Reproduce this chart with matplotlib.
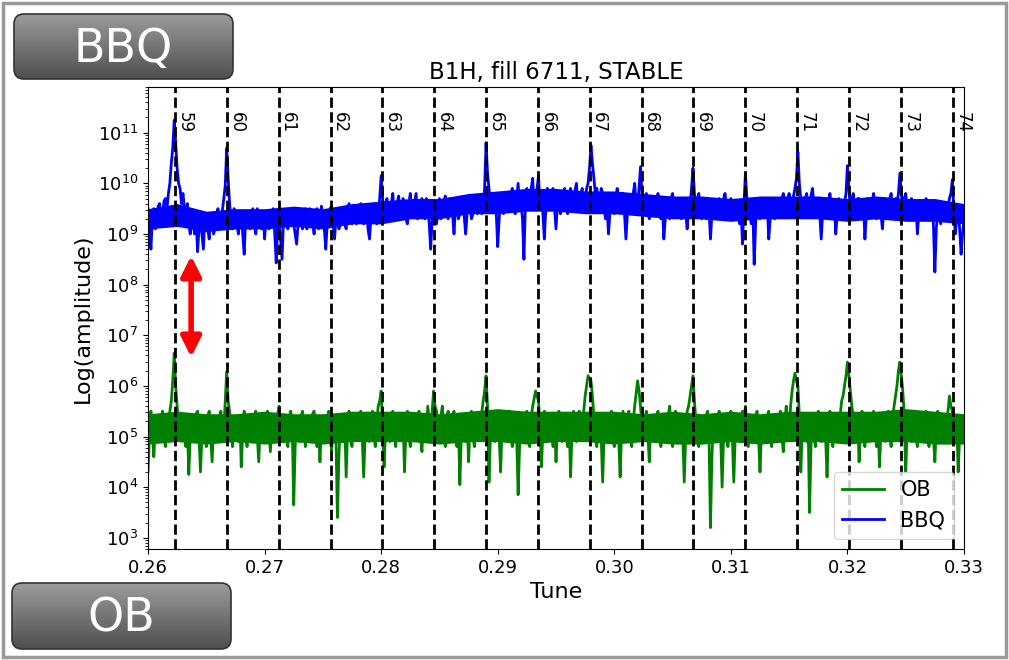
import numpy as np
import matplotlib
matplotlib.use("Agg")
import matplotlib.pyplot as plt
from matplotlib.patches import FancyBboxPatch, Rectangle
from matplotlib.colors import LinearSegmentedColormap
from matplotlib.ticker import LogLocator

# log10 amplitudes.
# *_log: samples at 0.26 + 0.00025*i ; *_mid: samples half way between them
tune_start = 0.26
tune_step = 0.00025

bbq_log = [
    9.5, 8.7, 9.5, 9.3, 9.6, 9.4, 9.7, 9.8, 10.4, 11.25, 10.3, 9.9, 9.8, 9.4, 9.2, 9.45, 9.0, 8.65, 9.3, 8.7,
    9.4, 8.9, 9.3, 9.1, 9.5, 9.2, 9.7, 10.7, 9.6, 9.1, 9.45, 9.0, 9.3, 8.6, 9.4, 9.1, 9.5, 9.0, 9.35, 9.1,
    8.9, 9.4, 9.2, 9.5, 8.43, 9.3, 8.5, 9.4, 9.1, 9.5, 9.2, 8.8, 9.4, 9.1, 9.5, 9.2, 9.45, 9.0, 9.5, 9.2,
    9.4, 8.7, 9.3, 9.55, 8.9, 9.4, 9.2, 9.5, 9.1, 9.6, 9.2, 9.5, 9.3, 9.6, 9.2, 9.5, 8.9, 9.4, 9.6, 9.3,
    10.15, 9.4, 9.7, 9.3, 9.8, 9.4, 9.75, 9.3, 9.6, 9.2, 9.8, 9.5, 9.8, 9.4, 9.7, 9.3, 9.6, 8.7, 9.5, 9.2,
    9.7, 9.4, 9.75, 9.3, 9.6, 9.0, 9.7, 9.4, 9.6, 9.0, 9.5, 9.3, 9.6, 9.4, 9.7, 9.5, 10.8, 9.9, 9.5, 9.8,
    8.75, 9.7, 9.4, 9.8, 9.5, 9.9, 9.4, 10.0, 9.6, 8.5, 9.9, 9.6, 10.1, 9.6, 10.15, 9.7, 8.9, 9.9, 9.6, 9.9,
    9.1, 9.8, 9.5, 9.9, 9.4, 9.9, 9.5, 10.0, 9.5, 9.9, 9.6, 10.0, 10.75, 10.1, 9.9, 9.5, 9.8, 9.3, 9.0, 9.7,
    9.4, 9.9, 9.5, 9.8, 8.9, 9.7, 9.4, 10.0, 9.5, 10.33, 9.5, 9.8, 9.3, 9.7, 9.4, 9.8, 9.3, 8.9, 9.6, 9.3,
    9.8, 9.4, 9.7, 9.3, 9.6, 9.1, 9.6, 10.3, 9.5, 9.8, 9.3, 9.7, 9.4, 8.9, 9.6, 9.3, 9.7, 9.4, 9.8, 9.3,
    9.7, 9.4, 9.6, 9.2, 8.8, 10.2, 9.5, 9.2, 8.4, 9.6, 9.3, 9.7, 9.4, 8.9, 9.6, 9.3, 9.7, 9.4, 9.8, 9.5,
    9.8, 9.5, 9.9, 10.62, 9.7, 9.4, 9.8, 9.5, 9.9, 9.4, 9.7, 8.9, 9.6, 9.3, 9.8, 9.4, 9.0, 9.7, 9.4, 9.6,
    10.35, 9.5, 9.8, 9.4, 9.7, 9.3, 8.9, 9.7, 9.4, 9.8, 9.3, 9.6, 9.1, 9.7, 9.4, 9.8, 9.4, 9.6, 10.2, 9.5,
    9.8, 9.4, 9.7, 9.3, 9.0, 9.6, 9.3, 9.7, 9.4, 9.6, 8.25, 9.5, 9.2, 9.6, 9.3, 9.7, 10.07, 9.0, 9.5, 8.6,
    9.3,
]

bbq_mid = [
    9.2, 9.3, 9.1, 9.55, 9.2, 9.65, 9.5, 10.0, 10.7, 10.8, 10.0, 9.6, 9.5, 9.6, 9.0, 9.2, 9.35, 9.1, 9.0, 9.3,
    9.1, 9.35, 9.0, 9.4, 9.15, 9.45, 9.95, 10.1, 9.3, 9.5, 9.2, 9.4, 9.0, 9.3, 9.2, 9.4, 9.15, 9.5, 9.2, 9.45,
    9.3, 9.1, 9.45, 9.0, 9.2, 8.9, 9.3, 9.2, 9.45, 9.3, 9.0, 9.2, 9.3, 9.45, 9.1, 9.5, 9.2, 9.4, 9.1, 9.55,
    9.1, 9.2, 9.5, 9.2, 9.3, 9.1, 9.45, 9.2, 9.5, 9.3, 9.55, 9.2, 9.5, 9.3, 9.45, 9.1, 9.3, 9.55, 9.2, 9.7,
    9.7, 9.6, 9.35, 9.6, 9.3, 9.6, 9.45, 9.7, 9.3, 9.6, 9.35, 9.65, 9.3, 9.6, 9.4, 9.7, 9.2, 9.3, 9.6, 9.45,
    9.3, 9.6, 9.4, 9.7, 9.4, 9.5, 9.3, 9.65, 9.35, 9.4, 9.6, 9.4, 9.7, 9.5, 9.4, 9.9, 10.2, 9.6, 9.7, 9.4,
    9.3, 9.5, 9.7, 9.45, 9.8, 9.5, 9.7, 9.5, 9.3, 9.6, 9.5, 9.9, 9.5, 9.9, 9.5, 9.4, 9.5, 9.7, 9.85, 9.5,
    9.6, 9.4, 9.8, 9.6, 9.75, 9.6, 9.85, 9.6, 9.8, 9.5, 9.9, 10.3, 10.4, 9.8, 9.7, 9.9, 9.5, 9.6, 9.4, 9.5,
    9.7, 9.6, 9.75, 9.4, 9.4, 9.5, 9.8, 9.6, 9.9, 9.8, 9.7, 9.5, 9.6, 9.5, 9.65, 9.5, 9.6, 9.3, 9.5, 9.7,
    9.5, 9.65, 9.4, 9.6, 9.4, 9.5, 9.9, 9.8, 9.7, 9.45, 9.6, 9.3, 9.5, 9.4, 9.45, 9.6, 9.5, 9.7, 9.5, 9.6,
    9.5, 9.65, 9.4, 9.5, 9.6, 9.7, 9.4, 9.6, 9.2, 9.4, 9.6, 9.45, 9.6, 9.3, 9.5, 9.65, 9.5, 9.7, 9.6, 9.7,
    9.6, 9.75, 10.1, 10.0, 9.5, 9.7, 9.55, 9.75, 9.6, 9.65, 9.4, 9.4, 9.5, 9.65, 9.5, 9.6, 9.4, 9.5, 9.65, 9.8,
    9.9, 9.7, 9.55, 9.7, 9.5, 9.6, 9.4, 9.5, 9.65, 9.5, 9.7, 9.4, 9.5, 9.55, 9.7, 9.5, 9.7, 9.8, 9.8, 9.7,
    9.5, 9.6, 9.45, 9.6, 9.4, 9.45, 9.6, 9.5, 9.65, 9.2, 9.1, 9.35, 9.5, 9.4, 9.55, 9.8, 9.5, 9.3, 9.1, 9.0,
]

ob_log = [
    4.3, 5.5, 4.6, 5.4, 4.9, 5.5, 4.8, 5.3, 5.7, 6.65, 5.6, 5.0, 5.4, 4.8, 4.25, 5.4, 4.9, 5.5, 4.3, 5.3,
    4.8, 5.5, 4.5, 5.4, 4.9, 5.5, 5.1, 6.28, 5.5, 4.8, 5.4, 4.9, 4.4, 5.5, 4.8, 5.4, 5.0, 5.5, 4.5, 5.4,
    4.9, 5.5, 4.7, 5.4, 5.0, 5.6, 4.9, 5.4, 4.8, 5.5, 3.65, 5.3, 4.9, 5.5, 4.8, 5.4, 5.0, 5.5, 4.8, 4.5,
    5.4, 4.9, 5.5, 4.7, 5.4, 3.4, 5.3, 4.9, 4.2, 5.5, 4.8, 5.4, 5.0, 5.5, 4.2, 5.4, 4.9, 5.5, 4.8, 5.6,
    5.9, 4.4, 5.4, 4.9, 5.5, 4.8, 5.4, 5.0, 4.3, 5.5, 4.8, 5.4, 5.0, 5.5, 4.7, 5.4, 5.6, 5.0, 5.9, 5.5,
    5.0, 5.6, 4.8, 5.5, 4.9, 5.5, 4.8, 4.05, 5.4, 4.9, 4.5, 5.5, 4.8, 5.4, 5.0, 5.7, 6.2, 4.1, 5.4, 4.9,
    5.5, 4.3, 5.4, 4.9, 5.5, 4.8, 5.4, 3.85, 5.3, 4.9, 5.5, 4.8, 5.6, 5.9, 5.7, 4.4, 5.5, 4.9, 5.4, 4.8,
    4.5, 5.5, 4.9, 5.4, 4.8, 4.2, 5.5, 4.9, 5.5, 5.1, 5.8, 6.2, 6.1, 5.4, 4.8, 5.4, 4.1, 5.3, 4.9, 5.5,
    4.8, 5.4, 4.2, 5.5, 4.9, 5.5, 4.8, 5.6, 6.1, 5.6, 5.0, 5.5, 4.5, 5.4, 4.9, 5.5, 4.8, 5.4, 5.0, 5.6,
    4.8, 5.5, 4.9, 5.4, 4.1, 5.5, 5.8, 6.2, 5.3, 4.8, 5.4, 4.9, 5.5, 3.2, 5.3, 4.9, 5.5, 4.0, 5.4, 4.8,
    5.5, 4.1, 5.4, 4.9, 5.5, 5.6, 4.8, 5.4, 4.9, 5.5, 4.3, 5.4, 4.9, 5.5, 4.8, 5.4, 5.0, 5.5, 4.7, 5.6,
    5.1, 5.9, 6.25, 6.0, 4.3, 5.4, 4.9, 3.5, 5.4, 4.8, 5.5, 4.9, 5.4, 4.2, 5.5, 4.8, 5.4, 5.0, 5.7, 6.0,
    6.47, 5.9, 5.4, 4.9, 4.5, 5.5, 4.8, 5.4, 5.0, 5.5, 4.8, 4.4, 5.4, 4.9, 5.5, 4.8, 5.6, 6.0, 6.47, 5.9,
    4.3, 5.4, 4.9, 5.5, 4.8, 5.4, 5.0, 5.5, 4.8, 5.4, 4.5, 5.5, 4.9, 5.4, 5.0, 5.8, 5.5, 4.9, 4.3, 5.4,
    5.0,
]

ob_mid = [
    5.0, 5.1, 5.2, 5.0, 5.35, 5.0, 5.4, 5.5, 6.1, 6.0, 5.3, 5.45, 5.0, 5.3, 5.0, 5.2, 5.45, 5.0, 5.0, 5.1,
    5.4, 5.0, 5.2, 5.0, 5.4, 5.2, 5.7, 5.7, 5.1, 5.3, 5.0, 5.4, 5.1, 5.0, 5.35, 5.1, 5.4, 5.0, 5.2, 5.0,
    5.35, 5.1, 5.3, 5.05, 5.45, 5.1, 5.3, 5.0, 5.4, 5.2, 4.8, 5.05, 5.4, 5.1, 5.3, 5.0, 5.45, 5.1, 5.3, 5.2,
    5.0, 5.35, 5.0, 5.3, 5.0, 4.6, 5.1, 5.3, 5.2, 5.0, 5.35, 5.1, 5.4, 5.0, 5.0, 5.1, 5.35, 5.0, 5.3, 5.7,
    5.2, 5.1, 5.0, 5.4, 5.1, 5.3, 5.0, 5.4, 5.1, 5.0, 5.3, 5.0, 5.4, 5.0, 5.3, 5.1, 5.3, 5.5, 5.6, 5.1,
    5.4, 5.1, 5.35, 5.0, 5.4, 5.1, 5.3, 5.0, 5.05, 5.4, 5.2, 5.0, 5.3, 5.1, 5.45, 5.9, 5.6, 5.0, 5.1, 5.4,
    5.0, 5.2, 5.1, 5.45, 5.0, 5.3, 5.0, 4.8, 5.1, 5.4, 5.0, 5.4, 5.75, 5.8, 5.2, 5.1, 5.05, 5.3, 5.05, 5.3,
    5.2, 5.0, 5.35, 5.0, 5.3, 5.1, 5.0, 5.4, 5.2, 5.5, 6.0, 6.15, 5.8, 5.0, 5.3, 5.0, 5.0, 5.0, 5.4, 5.1,
    5.3, 5.0, 5.1, 5.1, 5.4, 5.0, 5.3, 5.85, 5.9, 5.2, 5.35, 5.1, 5.2, 5.0, 5.4, 5.1, 5.3, 5.1, 5.4, 5.1,
    5.3, 5.0, 5.35, 5.0, 5.0, 5.6, 6.0, 5.7, 5.0, 5.3, 5.05, 5.4, 5.0, 4.6, 5.0, 5.4, 5.0, 5.0, 5.05, 5.35,
    5.0, 5.0, 5.1, 5.4, 5.3, 5.2, 5.3, 5.0, 5.4, 5.0, 5.1, 5.1, 5.4, 5.0, 5.3, 5.1, 5.4, 5.0, 5.3, 5.2,
    5.6, 6.1, 6.1, 5.4, 5.1, 5.0, 5.3, 4.8, 5.0, 5.35, 5.1, 5.3, 5.0, 5.1, 5.0, 5.3, 5.1, 5.4, 5.8, 6.2,
    6.2, 5.6, 5.1, 5.35, 5.1, 5.0, 5.3, 5.0, 5.4, 5.1, 5.3, 5.1, 5.0, 5.4, 5.0, 5.3, 5.8, 6.3, 6.2, 5.4,
    5.1, 5.0, 5.35, 5.0, 5.3, 5.1, 5.4, 5.0, 5.3, 5.0, 5.2, 5.0, 5.35, 5.1, 5.5, 5.6, 5.1, 5.3, 5.0, 5.2,
]

# solid core of each noise band (log10), every 0.0025 in tune
floor_step = 0.0025
bbq_floor_lo = [9.1, 9.15, 9.05, 9.1, 9.1, 9.15, 9.1, 9.2, 9.2, 9.3, 9.3, 9.4, 9.4, 9.45, 9.45,
                9.4, 9.4, 9.35, 9.3, 9.3, 9.25, 9.3, 9.3, 9.3, 9.25, 9.3, 9.25, 9.25, 9.2]
bbq_floor_hi = [9.5, 9.6, 9.45, 9.5, 9.5, 9.55, 9.5, 9.6, 9.65, 9.7, 9.7, 9.8, 9.85, 9.9, 9.9,
                9.85, 9.85, 9.8, 9.75, 9.75, 9.7, 9.75, 9.75, 9.75, 9.7, 9.75, 9.7, 9.7, 9.6]
ob_floor_lo = [4.85, 4.9, 4.85, 4.9, 4.85, 4.9, 4.85, 4.9, 4.9, 4.9, 4.85, 4.9, 4.9, 4.85, 4.9,
               4.9, 4.85, 4.9, 4.85, 4.85, 4.9, 4.85, 4.9, 4.9, 4.85, 4.9, 4.9, 4.85, 4.85]
ob_floor_hi = [5.45, 5.5, 5.45, 5.45, 5.5, 5.45, 5.45, 5.5, 5.5, 5.5, 5.45, 5.5, 5.55, 5.5, 5.5,
               5.5, 5.5, 5.45, 5.5, 5.45, 5.5, 5.45, 5.5, 5.5, 5.5, 5.5, 5.55, 5.5, 5.45]

# 50 Hz harmonics, in units of revolution frequency
harmonics = list(range(59, 75))
f_rev = 11245.5
f_mains = 50.0

arrow_x = 0.2637
arrow_top = 3.7e8
arrow_bottom = 3.7e6


def merge(main, mid):
    out = np.empty(len(main) + len(mid))
    out[0::2] = main
    out[1::2] = mid
    return 10 ** out


bbq = merge(bbq_log, bbq_mid)
ob = merge(ob_log, ob_mid)
tune = tune_start + tune_step / 2 * np.arange(len(bbq))
tune_floor = tune_start + floor_step * np.arange(len(bbq_floor_lo))

fig = plt.figure(figsize=(10.09, 6.60), dpi=100)
W, H = 1009, 660

ax = fig.add_axes([148 / W, 1 - 549 / H, (964 - 148) / W, (549 - 87) / H])
ax.fill_between(tune_floor, 10 ** np.array(ob_floor_lo), 10 ** np.array(ob_floor_hi),
                color="green", lw=0)
ax.plot(tune, ob, color="green", lw=2, label="OB")
ax.fill_between(tune_floor, 10 ** np.array(bbq_floor_lo), 10 ** np.array(bbq_floor_hi),
                color="blue", lw=0)
ax.plot(tune, bbq, color="blue", lw=2, label="BBQ")
ax.set_yscale("log")
ax.set_xlim(0.26, 0.33)
ax.set_ylim(6e2, 8e11)
ax.yaxis.set_major_locator(LogLocator(base=10, numticks=20))
ax.yaxis.set_minor_locator(LogLocator(base=10, subs=np.arange(2, 10), numticks=20))

for h in harmonics:
    xh = h * f_mains / f_rev
    ax.axvline(xh, color="black", ls="--", lw=2)
    ax.text(xh + 0.00005, 0.945, str(h), rotation=270, ha="left", va="top",
            fontsize=12, transform=ax.get_xaxis_transform())

ax.annotate("", xy=(arrow_x, arrow_bottom), xytext=(arrow_x, arrow_top),
            arrowprops=dict(arrowstyle="<|-|>", color="red", lw=4,
                            mutation_scale=30, shrinkA=0, shrinkB=0))

ax.set_xlabel("Tune", fontsize=16)
ax.set_ylabel("Log(amplitude)", fontsize=16)
ax.set_title("B1H, fill 6711, STABLE", fontsize=16.5)
ax.tick_params(labelsize=13)
ax.legend(loc="lower right", fontsize=15)

# outer frame
fig.patches.append(Rectangle((3 / W, 3 / H), 1003 / W, 654 / H, transform=fig.transFigure,
                             fill=False, edgecolor="#999999", lw=2.5))

# gray buttons, lighter at the top
btn_cmap = LinearSegmentedColormap.from_list("btn", ["#4e4e4e", "#9c9c9c"])
grad = np.linspace(0, 1, 100).reshape(-1, 1)


def button(x0, y0, x1, y1, label):
    bw, bh = x1 - x0, y1 - y0
    bax = fig.add_axes([x0 / W, 1 - y1 / H, bw / W, bh / H])
    bax.set_xlim(0, bw)
    bax.set_ylim(0, bh)
    bax.axis("off")
    box = FancyBboxPatch((1, 1), bw - 2, bh - 2, boxstyle="round,pad=0,rounding_size=10",
                         facecolor="none", edgecolor="#333333", lw=1.2, zorder=3)
    bax.add_patch(box)
    im = bax.imshow(grad, cmap=btn_cmap, extent=(0, bw, 0, bh),
                    aspect="auto", origin="lower")
    im.set_clip_path(box)
    fig.text((x0 + x1) / 2 / W, 1 - ((y0 + y1) / 2 + 3) / H, label, color="white",
             fontsize=33, ha="center", va="center", zorder=5)


button(13, 13, 234, 80, "BBQ")
button(11, 582, 232, 650, "OB")

fig.savefig("out.png", dpi=100)
